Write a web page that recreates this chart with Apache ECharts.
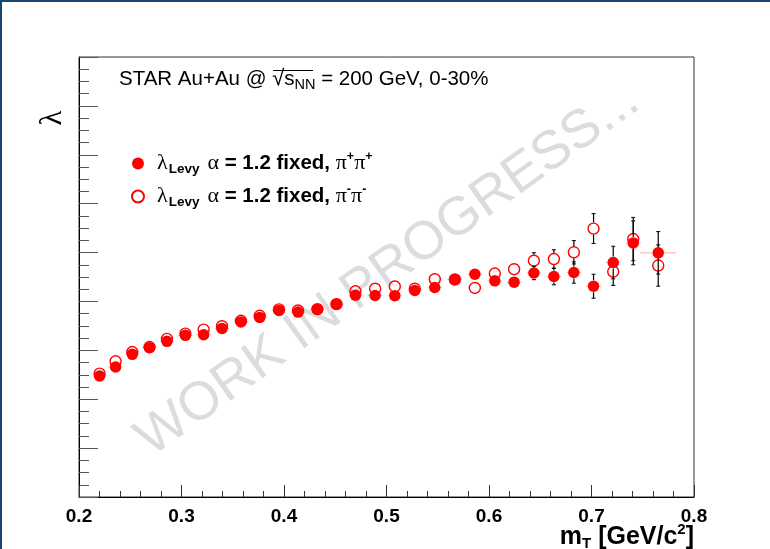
<!DOCTYPE html>
<html><head><meta charset="utf-8">
<script src="https://cdn.jsdelivr.net/npm/echarts@6/dist/echarts.min.js"></script>
<style>html,body{margin:0;padding:0;background:#fff}#c{width:770px;height:549px}</style>
</head><body><div id="c"></div>
<script>
// m_T bin centres [GeV/c^2]
const mT = [0.2201,0.2357,0.2520,0.2688,0.2858,0.3038,0.3216,0.3395,0.3580,0.3763,
            0.3951,0.4137,0.4326,0.4512,0.4697,0.4889,0.5081,0.5276,0.5471,0.5667,
            0.5862,0.6057,0.6245,0.6438,0.6633,0.6828,0.7020,0.7212,0.7407,0.7651];
const mTErr = [0.007,0.007,0.007,0.007,0.007,0.007,0.007,0.007,0.007,0.007,
               0.007,0.007,0.007,0.007,0.007,0.007,0.007,0.007,0.007,0.007,
               0.007,0.007,0.007,0.007,0.007,0.007,0.007,0.007,0.0073,0.0176];
// lambda, pi+pi+
const lamPP = [0.2476,0.2659,0.2918,0.3055,0.3184,0.3306,0.3320,0.3449,0.3582,0.3673,
               0.3816,0.3782,0.3837,0.3945,0.4129,0.4122,0.4118,0.4224,0.4286,0.4449,
               0.4557,0.4422,0.4394,0.4582,0.4510,0.4592,0.4312,0.4796,0.5198,0.4994];
const lamPPErr = [0.004,0.004,0.004,0.004,0.004,0.004,0.004,0.004,0.004,0.004,
                  0.004,0.004,0.004,0.004,0.004,0.004,0.004,0.004,0.004,0.005,
                  0.0092,0.0082,0.0116,0.0137,0.0169,0.0218,0.0245,0.0333,0.0449,0.0435];
// lambda, pi-pi-
const lamMM = [0.2524,0.2776,0.2965,0.3067,0.3235,0.3341,0.3424,0.3494,0.3604,0.3706,
               0.3837,0.3816,0.3843,0.3945,0.4208,0.4261,0.4306,0.4261,0.4455,0.4449,
               0.4276,0.4571,0.4659,0.4833,0.4867,0.5006,0.5490,0.4608,0.5276,0.4735];
const lamMMErr = [0.004,0.004,0.004,0.004,0.004,0.004,0.004,0.004,0.004,0.004,
                  0.004,0.004,0.004,0.004,0.004,0.004,0.004,0.004,0.004,0.005,
                  0.0082,0.0092,0.0122,0.0163,0.019,0.0239,0.0306,0.028,0.0443,0.0422];
const xTickLabels = ['0.2','0.3','0.4','0.5','0.6','0.7','0.8'];

const RED = '#ff0000';
const SANS = 'Liberation Sans, Arial, Helvetica, sans-serif';
const SERIF = 'Liberation Serif, Times New Roman, serif';
const GAP = 6; // marker radius: bars are drawn outside the marker, as in ROOT

const ppData = mT.map((x,i)=>[x, lamPP[i], lamPPErr[i], mTErr[i]]);
const mmData = mT.map((x,i)=>[x, lamMM[i], lamMMErr[i], 0]);

function renderErr(params, api){
  const x = api.value(0), y = api.value(1), e = api.value(2), xe = api.value(3);
  const c = api.coord([x, y]);
  const ch = [];
  if (xe > 0){
    const l = api.coord([x-xe, y]), r = api.coord([x+xe, y]);
    if (c[0]-GAP > l[0]) {
      ch.push({type:'line', shape:{x1:l[0],y1:c[1],x2:c[0]-GAP,y2:c[1]}, style:{stroke:'rgba(255,0,0,0.35)', lineWidth:1}});
      ch.push({type:'line', shape:{x1:c[0]+GAP,y1:c[1],x2:r[0],y2:c[1]}, style:{stroke:'rgba(255,0,0,0.35)', lineWidth:1}});
    }
  }
  const t = api.coord([x, y+e]), b = api.coord([x, y-e]);
  if (c[1]-GAP > t[1]) {
    ch.push({type:'line', shape:{x1:c[0],y1:t[1],x2:c[0],y2:c[1]-GAP}, style:{stroke:'#000', lineWidth:1.2}});
    ch.push({type:'line', shape:{x1:c[0],y1:c[1]+GAP,x2:c[0],y2:b[1]}, style:{stroke:'#000', lineWidth:1.2}});
    ch.push({type:'line', shape:{x1:c[0]-2,y1:t[1],x2:c[0]+2,y2:t[1]}, style:{stroke:'#000', lineWidth:1}});
    ch.push({type:'line', shape:{x1:c[0]-2,y1:b[1],x2:c[0]+2,y2:b[1]}, style:{stroke:'#000', lineWidth:1}});
  }
  return {type:'group', children:ch};
}

const legRich = {
  g:   {fontFamily:SERIF, fontSize:22, color:'#000', lineHeight:24},
  ga:  {fontFamily:SERIF, fontSize:22, color:'#000', lineHeight:24, padding:[0,0,0,8]},
  b:   {fontFamily:SANS, fontSize:20.5, fontWeight:'bold', color:'#000', lineHeight:24},
  sub: {fontFamily:SANS, fontSize:13.5, fontWeight:'bold', color:'#000', lineHeight:24, padding:[12,0,0,1]},
  sup: {fontFamily:SANS, fontSize:12.5, fontWeight:'bold', color:'#000', lineHeight:24, padding:[0,0,14,0]}
};
const legendText = {
  pp: '{g|λ}{sub|Levy}{ga|α}{b| = 1.2 fixed, }{g|π}{sup|+}{g|π}{sup|+}',
  mm: '{g|λ}{sub|Levy}{ga|α}{b| = 1.2 fixed, }{g|π}{sup|-}{g|π}{sup|-}'
};

const chart = echarts.init(document.getElementById('c'), null, {renderer:'canvas'});
chart.setOption({
  backgroundColor:'#fff',
  animation:false,
  grid:{left:79, right:76, top:57, bottom:52, show:true, borderColor:'#333', borderWidth:1, backgroundColor:'transparent'},
  xAxis:{
    type:'value', min:0.2, max:0.8, interval:0.1,
    axisLine:{show:true, lineStyle:{color:'#000', width:1}},
    axisTick:{show:true, inside:true, length:12, lineStyle:{color:'#333'}},
    minorTick:{show:true, splitNumber:5, length:6, lineStyle:{color:'#333'}},
    splitLine:{show:false},
    axisLabel:{show:true, margin:10, color:'#000', fontFamily:SANS, fontWeight:'bold', fontSize:19,
               formatter:(v)=>xTickLabels[Math.round((v-0.2)/0.1)]}
  },
  yAxis:{
    type:'value', min:0, max:0.9, interval:0.1,
    axisLine:{show:true, lineStyle:{color:'#000', width:1}},
    axisTick:{show:true, inside:true, length:19, lineStyle:{color:'#555'}},
    minorTick:{show:true, splitNumber:4, length:10, lineStyle:{color:'#555'}},
    splitLine:{show:false},
    axisLabel:{show:false}
  },
  legend:{
    orient:'vertical', left:131, top:150, padding:0, itemWidth:28, itemHeight:12, itemGap:6,
    data:['pp','mm'], selectedMode:false,
    formatter:(n)=>legendText[n],
    textStyle:{rich:legRich}
  },
  graphic:[
    {type:'rect', shape:{x:0,y:0,width:770,height:2}, style:{fill:'#1b4373'}, z:100},
    {type:'rect', shape:{x:0,y:0,width:2,height:549}, style:{fill:'#1b4373'}, z:100},
    {type:'text', x:388, y:270, rotation:0.62, z:0,
     style:{text:'WORK IN PROGRESS...', fontFamily:SANS, fontSize:54, fill:'#dcdcdc', align:'center', verticalAlign:'middle'}},
    {type:'text', x:119, y:79, z:10,
     style:{text:'{n|STAR Au+Au @ }{r|√}{n|s}{sub|NN}{n| = 200 GeV, 0-30%}', verticalAlign:'middle',
       rich:{
         n:{fontFamily:SANS, fontSize:20.5, fill:'#000', lineHeight:24},
         r:{fontFamily:SANS, fontSize:22, fill:'#000', lineHeight:24},
         sub:{fontFamily:SANS, fontSize:14.5, fill:'#000', lineHeight:24, padding:[12,0,0,0]}
       }}},
    {type:'line', shape:{x1:273, y1:70.5, x2:313, y2:70.5}, style:{stroke:'#000', lineWidth:1.2}, z:10},
    {type:'text', x:53, y:118, rotation:Math.PI/2, z:10,
     style:{text:'λ', fontFamily:SERIF, fontSize:31, fill:'#000', align:'center', verticalAlign:'middle'}},
    {type:'text', x:694, y:537, z:10,
     style:{text:'{m|m}{sub|T}{m| [GeV/c}{sup|2}{m|]}', align:'right', verticalAlign:'middle',
       rich:{
         m:{fontFamily:SANS, fontSize:25, fontWeight:'bold', fill:'#000', lineHeight:28},
         sub:{fontFamily:SANS, fontSize:15, fontWeight:'bold', fill:'#000', lineHeight:28, padding:[13,0,0,0]},
         sup:{fontFamily:SANS, fontSize:15, fontWeight:'bold', fill:'#000', lineHeight:28, padding:[0,0,15,0]}
       }}}
  ],
  series:[
    {name:'mmErr', type:'custom', data:mmData, renderItem:renderErr, encode:{x:0,y:1}, z:2, silent:true},
    {name:'mm', type:'scatter', data:mmData, encode:{x:0,y:1}, symbol:'circle', symbolSize:11, z:3,
     itemStyle:{color:'rgba(255,255,255,0)', borderColor:RED, borderWidth:1.4, opacity:1}},
    {name:'ppErr', type:'custom', data:ppData, renderItem:renderErr, encode:{x:0,y:1}, z:4, silent:true},
    {name:'pp', type:'scatter', data:ppData, encode:{x:0,y:1}, symbol:'circle', symbolSize:11.5, z:5,
     itemStyle:{color:RED, opacity:1}}
  ]
});
</script></body></html>
